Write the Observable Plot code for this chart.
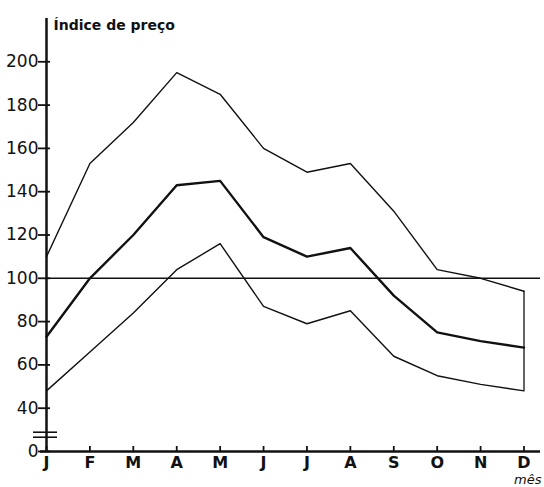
<!DOCTYPE html>
<html>
<head>
<meta charset="utf-8">
<script src="https://cdn.jsdelivr.net/npm/d3@7"></script>
<script src="https://cdn.jsdelivr.net/npm/@observablehq/plot@0.6"></script>
<style>
  html, body { margin: 0; padding: 0; background: #fff; }
  #chart svg { display: block; }
</style>
</head>
<body>
<div id="chart"></div>
<script>
// ---- data ----
const months = ["J","F","M","A","M","J","J","A","S","O","N","D"];
const upper  = [110, 153, 172, 195, 185, 160, 149, 153, 131, 104, 100, 94];
const middle = [ 73, 100, 120, 143, 145, 119, 110, 114,  92,  75,  71, 68];
const lower  = [ 48,  66,  84, 104, 116,  87,  79,  85,  64,  55,  51, 48];
const reference = 100;
const yTicks = [0, 40, 60, 80, 100, 120, 140, 160, 180, 200];
const yLabel = "Índice de preço";
const xLabel = "mês";
const axisBreak = 15.5;

// ---- layout ----
const W = 544, H = 487;
const mLeft = 46, mRight = 4, mTop = 18, mBottom = 36;
const yBottom = H - mBottom, yTop = mTop;
const pxPerUnit = (yBottom - yTop) / 200; // pixels per unit above the break

const idx = months.map((_, i) => i);
const rows = (vals) => vals.map((v, i) => ({i, v}));

const ink = "#111";

const plot = Plot.plot({
  width: W, height: H, marginLeft: mLeft, marginRight: mRight, marginTop: mTop, marginBottom: mBottom,
  style: {fontFamily: "DejaVu Sans, sans-serif", color: ink, background: "#fff"},
  x: {type: "linear", domain: [0, 11.38], axis: null},
  y: {type: "linear", domain: [0, 40, 220], range: [yBottom, yBottom - 20 * pxPerUnit, yTop], axis: null},
  marks: [
    // reference line at 100
    Plot.ruleY([reference], {stroke: ink, strokeWidth: 1.5}),
    // series
    Plot.line(rows(upper),  {x: "i", y: "v", stroke: ink, strokeWidth: 1.4}),
    Plot.line(rows(middle), {x: "i", y: "v", stroke: ink, strokeWidth: 2.4}),
    Plot.line(rows(lower),  {x: "i", y: "v", stroke: ink, strokeWidth: 1.4}),
    // closing vertical at D
    Plot.ruleX([idx[idx.length - 1]], {y1: lower[lower.length - 1], y2: upper[upper.length - 1], stroke: ink, strokeWidth: 1.3}),
    // axis lines
    Plot.ruleX([0], {stroke: ink, strokeWidth: 2.5}),
    Plot.ruleY([0], {stroke: ink, strokeWidth: 2.5, insetLeft: -6}),
    // y ticks (crosses) and labels
    Plot.axisY({ticks: yTicks, tickSize: 12, dx: 4, tickFormat: () => "", label: null, stroke: ink, strokeWidth: 1.8}),
    Plot.axisY({ticks: yTicks, tickSize: 0, tickPadding: 8, tickFormat: d => String(d), label: null, fontSize: 17, fill: ink}),
    // axis break marks
    Plot.axisY({ticks: [axisBreak], tickSize: 24, dx: 11, dy: -2.5, tickFormat: () => "", label: null, stroke: ink, strokeWidth: 1.6}),
    Plot.axisY({ticks: [axisBreak], tickSize: 24, dx: 11, dy: 2.5, tickFormat: () => "", label: null, stroke: ink, strokeWidth: 1.6}),
    // x ticks (upward) and month labels
    Plot.axisX({ticks: idx, tickSize: 5, dy: -5, tickFormat: () => "", label: null, stroke: ink, strokeWidth: 1.8}),
    Plot.axisX({ticks: idx, tickSize: 0, tickPadding: 5, tickFormat: i => months[i], label: null, fontSize: 16, fontWeight: "bold", fill: ink}),
    // axis titles
    Plot.text([yLabel], {frameAnchor: "top-left", dx: 7, dy: 2, text: d => d, textAnchor: "start", fontSize: 14, fontWeight: "bold", fill: ink}),
    Plot.text([xLabel], {frameAnchor: "bottom-right", dx: 1, dy: 32, lineAnchor: "bottom", text: d => d, textAnchor: "end", fontSize: 13, fontStyle: "italic", fill: ink})
  ]
});
document.getElementById("chart").appendChild(plot);
</script>
</body>
</html>
